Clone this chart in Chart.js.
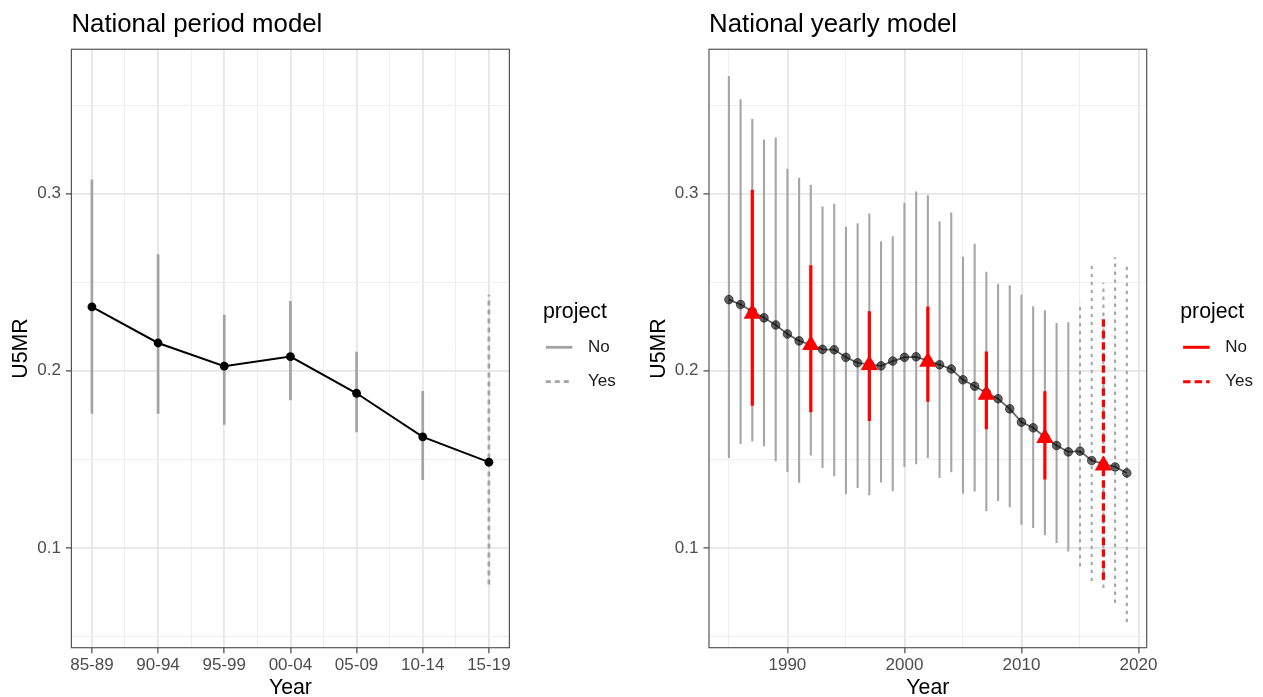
<!DOCTYPE html>
<html>
<head>
<meta charset="utf-8">
<script src="https://cdn.jsdelivr.net/npm/chart.js@4.4.1/dist/chart.umd.min.js"></script>
<style>
  html, body { margin: 0; padding: 0; background: #fff; }
  #wrap { position: relative; width: 1263px; height: 697px; overflow: hidden; }
  canvas { position: absolute; top: 0; }
  #periodChart { left: 0; }
  #yearlyChart { left: 637px; }
</style>
</head>
<body>
<div id="wrap">
  <canvas id="periodChart" width="637" height="697" style="width:637px;height:697px"></canvas>
  <canvas id="yearlyChart" width="626" height="697" style="width:626px;height:697px"></canvas>
</div>
<script>
// period model (left panel)
const periodLabels = ["85-89", "90-94", "95-99", "00-04", "05-09", "10-14", "15-19"];
const periodEst  = [0.2361, 0.2157, 0.2026, 0.2080, 0.1873, 0.1627, 0.1484];
const periodLow  = [0.1758, 0.1758, 0.1695, 0.1834, 0.1653, 0.1383, 0.0793];
const periodHigh = [0.3081, 0.2658, 0.2317, 0.2394, 0.2107, 0.1886, 0.2430];
const periodProject = ["No", "No", "No", "No", "No", "No", "Yes"];

// yearly model (right panel)
const years = [1985, 1986, 1987, 1988, 1989, 1990, 1991, 1992, 1993, 1994,
               1995, 1996, 1997, 1998, 1999, 2000, 2001, 2002, 2003, 2004,
               2005, 2006, 2007, 2008, 2009, 2010, 2011, 2012, 2013, 2014,
               2015, 2016, 2017, 2018, 2019];
const yearEst = [0.2402, 0.2374, 0.2335, 0.2299, 0.2259, 0.2208, 0.2169, 0.2147, 0.2121, 0.2119,
                 0.2076, 0.2045, 0.2036, 0.2028, 0.2055, 0.2076, 0.2079, 0.2057, 0.2034, 0.2010,
                 0.1949, 0.1913, 0.1876, 0.1842, 0.1785, 0.1710, 0.1678, 0.1626, 0.1578, 0.1542,
                 0.1546, 0.1493, 0.1474, 0.1457, 0.1423];
const yearLow = [0.1508, 0.1587, 0.1600, 0.1574, 0.1489, 0.1429, 0.1367, 0.1521, 0.1451, 0.1404,
                 0.1303, 0.1338, 0.1297, 0.1369, 0.1320, 0.1457, 0.1472, 0.1508, 0.1395, 0.1427,
                 0.1306, 0.1318, 0.1206, 0.1265, 0.1229, 0.1131, 0.1112, 0.1071, 0.1027, 0.0980,
                 0.0895, 0.0812, 0.0773, 0.0688, 0.0580];
const yearHigh = [0.3665, 0.3533, 0.3422, 0.3307, 0.3318, 0.3141, 0.3090, 0.3051, 0.2928, 0.2943,
                  0.2813, 0.2834, 0.2889, 0.2732, 0.2760, 0.2947, 0.3013, 0.2992, 0.2843, 0.2894,
                  0.2644, 0.2717, 0.2559, 0.2491, 0.2483, 0.2429, 0.2364, 0.2342, 0.2270, 0.2274,
                  0.2387, 0.2597, 0.2497, 0.2641, 0.2607];
const yearProject = ["No", "No", "No", "No", "No", "No", "No", "No", "No", "No",
                     "No", "No", "No", "No", "No", "No", "No", "No", "No", "No",
                     "No", "No", "No", "No", "No", "No", "No", "No", "No", "No",
                     "Yes", "Yes", "Yes", "Yes", "Yes"];

// period estimates placed on the yearly axis (red)
const midYears = [1987, 1992, 1997, 2002, 2007, 2012, 2017];
const midEst  = [0.2322, 0.2146, 0.2033, 0.2051, 0.1864, 0.1620, 0.1465];
const midLow  = [0.1802, 0.1766, 0.1716, 0.1825, 0.1670, 0.1386, 0.0820];
const midHigh = [0.3023, 0.2596, 0.2336, 0.2363, 0.2109, 0.1885, 0.2293];
const midProject = ["No", "No", "No", "No", "No", "No", "Yes"];

// axes
const yMajor = [0.1, 0.2, 0.3];
const yTickLabels = ["0.1", "0.2", "0.3"];
const yMinor = [0.05, 0.15, 0.25, 0.35];
const yearMajor = [1990, 2000, 2010, 2020];
const yearTickLabels = ["1990", "2000", "2010", "2020"];
const yearMinor = [1985, 1995, 2005, 2015];

const legendTitle = "project";
const legendLabels = ["No", "Yes"];

Chart.defaults.font.family = '"Liberation Sans", Arial, sans-serif';

const GRID = "#e6e6e6", GRID_MINOR = "#eeeeee", INK = "#555555", TICK_TXT = "#4d4d4d";

// error bars as one broken line: low -> high, then a gap
function bars(xs, lows, highs, groups, want) {
  const pts = [];
  xs.forEach((x, i) => {
    if (groups[i] !== want) return;
    pts.push({x: x, y: lows[i]}, {x: x, y: highs[i]}, {x: x, y: null});
  });
  return pts;
}

function barSet(data, color, width, dash, order) {
  return {
    data: data, borderColor: color, borderWidth: width, borderDash: dash,
    borderCapStyle: "butt", pointRadius: 0, spanGaps: false, fill: false, order: order
  };
}

const panelBorder = {
  id: "panelBorder",
  afterDatasetsDraw(chart) {
    const {ctx, chartArea: a} = chart;
    ctx.save();
    ctx.strokeStyle = INK;
    ctx.lineWidth = 1.2;
    ctx.strokeRect(a.left, a.top, a.right - a.left, a.bottom - a.top);
    ctx.restore();
  }
};

function projectLegend(items) {
  return {
    id: "projectLegend",
    afterDraw(chart) {
      const {ctx, chartArea: a} = chart;
      const x0 = a.right;
      ctx.save();
      ctx.textAlign = "left";
      ctx.fillStyle = "#000";
      ctx.font = '21.3px "Liberation Sans", Arial, sans-serif';
      ctx.textBaseline = "alphabetic";
      ctx.fillText(legendTitle, x0 + 33.5, 317.5);
      const ys = [347.3, 381.7];
      items.forEach((it, i) => {
        ctx.beginPath();
        ctx.strokeStyle = it.color;
        ctx.lineWidth = it.width;
        ctx.setLineDash(it.dash);
        ctx.moveTo(x0 + 36.4, ys[i]);
        ctx.lineTo(x0 + 63, ys[i]);
        ctx.stroke();
        ctx.setLineDash([]);
        ctx.fillStyle = "#1a1a1a";
        ctx.font = '17px "Liberation Sans", Arial, sans-serif';
        ctx.textBaseline = "middle";
        ctx.fillText(legendLabels[i], x0 + 78.6, ys[i]);
      });
      ctx.restore();
    }
  };
}

const isBig = c => c.tick && c.tick.big;
function gridOpts() {
  return {
    color: c => isBig(c) ? GRID : GRID_MINOR,
    lineWidth: c => isBig(c) ? 1.8 : 1,
    tickColor: c => isBig(c) ? "#333333" : "rgba(0,0,0,0)",
    tickWidth: 1.1,
    tickLength: 5.5,
    drawTicks: true
  };
}

function yScale(width, titlePad) {
  return {
    type: "linear",
    min: 0.0436, max: 0.3816,
    afterFit: s => { s.width = width; },
    afterBuildTicks: s => {
      s.ticks = yMinor.map(v => ({value: v, big: false}))
        .concat(yMajor.map(v => ({value: v, big: true})))
        .sort((a, b) => a.value - b.value);
    },
    ticks: {
      autoSkip: false, padding: 5, color: TICK_TXT, font: {size: 17},
      callback: v => { const k = yMajor.indexOf(v); return k >= 0 ? yTickLabels[k] : ""; }
    },
    grid: gridOpts(),
    border: {display: false},
    title: {display: true, text: "U5MR", color: "#000", font: {size: 21.3, lineHeight: 1}, padding: {top: titlePad, bottom: 0}}
  };
}

function xScale(min, max, tickList, labelOf) {
  return {
    type: "linear",
    min: min, max: max,
    afterFit: s => { s.height = 49.3; },
    afterBuildTicks: s => { s.ticks = tickList.slice(); },
    ticks: {
      autoSkip: false, maxRotation: 0, minRotation: 0, padding: 1.5, color: TICK_TXT, font: {size: 17},
      callback: labelOf
    },
    grid: gridOpts(),
    border: {display: false},
    title: {display: true, text: "Year", color: "#000", font: {size: 21.3, lineHeight: 0.8}, padding: 0}
  };
}

function baseOptions(title, padRight, scales) {
  return {
    responsive: false, animation: false, devicePixelRatio: 1,
    layout: {padding: {top: 0, left: 0, bottom: 0, right: padRight}},
    scales: scales,
    plugins: {
      legend: {display: false},
      tooltip: {enabled: false},
      title: {
        display: true, text: title, align: "start", fullSize: false, color: "#000",
        font: {size: 25.8, weight: "normal", lineHeight: 1.2}, padding: {top: 9, bottom: 9.3}
      }
    }
  };
}

// ---- left: period model ----
const periodPos = periodLabels.map((_, i) => i);
const periodTicks = [];
periodPos.forEach((p, i) => {
  periodTicks.push({value: p, big: true});
  if (i < periodPos.length - 1) periodTicks.push({value: p + 0.5, big: false});
});

new Chart(document.getElementById("periodChart"), {
  type: "line",
  data: {
    datasets: [
      barSet(bars(periodPos, periodLow, periodHigh, periodProject, "No"), "#a3a3a3", 2.7, [], 2),
      barSet(bars(periodPos, periodLow, periodHigh, periodProject, "Yes"), "#a3a3a3", 2.7, [5, 4], 2),
      {
        data: periodEst.map((v, i) => ({x: periodPos[i], y: v})),
        borderColor: "#000", borderWidth: 2, pointRadius: 4.4,
        pointBackgroundColor: "#000", pointBorderWidth: 0, tension: 0, order: 0
      }
    ]
  },
  options: baseOptions("National period model", 127.6, {
    x: xScale(-0.31, 6.31, periodTicks, v => Number.isInteger(v) ? periodLabels[v] : ""),
    y: yScale(71.4, 10.75)
  }),
  plugins: [panelBorder, projectLegend([
    {color: "#a3a3a3", width: 2.8, dash: []},
    {color: "#a3a3a3", width: 2.8, dash: [5, 4]}
  ])]
});

// ---- right: yearly model ----
const yearTicks = yearMinor.map(v => ({value: v, big: false}))
  .concat(yearMajor.map(v => ({value: v, big: true})))
  .sort((a, b) => a.value - b.value);

new Chart(document.getElementById("yearlyChart"), {
  type: "line",
  data: {
    datasets: [
      barSet(bars(years, yearLow, yearHigh, yearProject, "No"), "#a6a6a6", 2.1, [], 4),
      barSet(bars(years, yearLow, yearHigh, yearProject, "Yes"), "#a6a6a6", 2.1, [3.5, 4.5], 4),
      {
        data: yearEst.map((v, i) => ({x: years[i], y: v})),
        borderColor: "rgba(0,0,0,0.6)", borderWidth: 1.8, pointRadius: 4.3,
        pointBackgroundColor: "rgba(0,0,0,0.6)", pointBorderColor: "rgba(0,0,0,0.7)",
        pointBorderWidth: 0.8, tension: 0, order: 3
      },
      barSet(bars(midYears, midLow, midHigh, midProject, "No"), "#ff0000", 3.2, [], 2),
      barSet(bars(midYears, midLow, midHigh, midProject, "Yes"), "#ff0000", 3.2, [7.5, 4], 2),
      {
        data: midEst.map((v, i) => ({x: midYears[i], y: v})),
        showLine: false, pointStyle: "triangle", pointRadius: 10,
        pointBackgroundColor: "#ff0000", pointBorderColor: "#ff0000", pointBorderWidth: 0, order: 1
      }
    ]
  },
  options: baseOptions("National yearly model", 116.3, {
    x: xScale(1983.3, 2020.7, yearTicks, v => { const k = yearMajor.indexOf(v); return k >= 0 ? yearTickLabels[k] : ""; }),
    y: yScale(72, 11.35)
  }),
  plugins: [panelBorder, projectLegend([
    {color: "#ff0000", width: 3, dash: []},
    {color: "#ff0000", width: 3, dash: [7.5, 4]}
  ])]
});
</script>
</body>
</html>
